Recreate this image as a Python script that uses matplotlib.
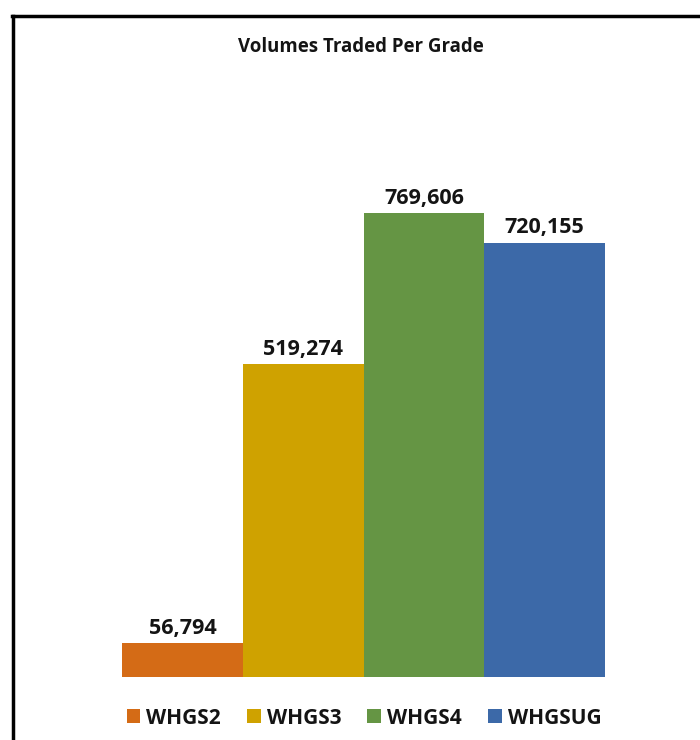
import matplotlib
matplotlib.use("Agg")
import matplotlib.pyplot as plt
from matplotlib.lines import Line2D
from matplotlib.patches import Patch

categories = ["WHGS2", "WHGS3", "WHGS4", "WHGSUG"]
volumes = [56794, 519274, 769606, 720155]
colors = ["#D46B16", "#CFA200", "#659544", "#3C69A8"]

W, H = 700, 740
plt.rcParams['font.family'] = ['Open Sans', 'DejaVu Sans']
fig = plt.figure(figsize=(7, 7.4), dpi=100)

# plot area in pixel coordinates
left, right, bottom, top = 122, 605, 677, 134
ax = fig.add_axes([left / W, 1 - bottom / H, (right - left) / W, (bottom - top) / H])
x = list(range(len(categories)))
ax.bar(x, volumes, width=1.0, color=colors, edgecolor="none")
ax.set_xlim(-0.5, len(categories) - 0.5)
ax.set_ylim(0, 900000)
ax.axis("off")

for xi, v in zip(x, volumes):
    ax.annotate(f"{v:,}", (xi, v), xytext=(0, 3), textcoords="offset points",
                ha="center", va="bottom", fontsize=15.5, fontweight="bold", color="#141414")

fig.text(360.5 / W, 1 - 47 / H, "Volumes Traded Per Grade", ha="center", va="center",
         fontsize=13.4, fontweight="bold", color="#141414")

handles = [Patch(facecolor=c, edgecolor="none") for c in colors]
leg = fig.legend(handles, categories, loc="center", bbox_to_anchor=(364 / W, 1 - 718 / H),
                 ncol=4, frameon=False, handlelength=0.65, handleheight=0.65,
                 handletextpad=0.3, columnspacing=1.25,
                 prop={"size": 15, "weight": "bold", "family": ["Open Sans", "DejaVu Sans"]})
for t in leg.get_texts():
    t.set_color("#141414")

# outer frame (top and left edges visible)
fig.add_artist(Line2D([12 / W, 1.0], [1 - 16 / H, 1 - 16 / H], color="black", lw=2.5,
                      transform=fig.transFigure))
fig.add_artist(Line2D([13 / W, 13 / W], [1 - 16 / H, 0.0], color="black", lw=2.5,
                      transform=fig.transFigure))

fig.savefig("out.png", dpi=100)
